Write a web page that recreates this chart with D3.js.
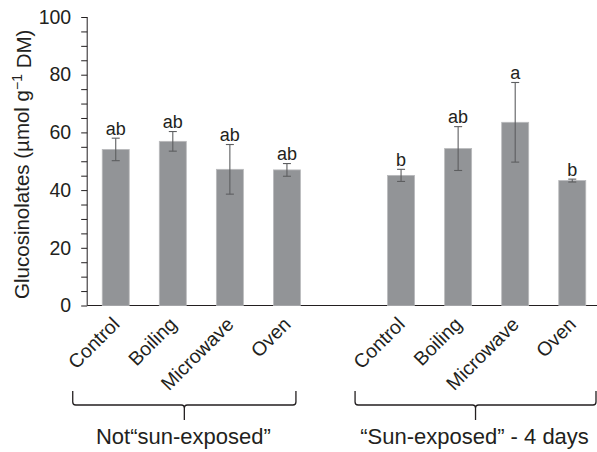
<!DOCTYPE html>
<html>
<head>
<meta charset="utf-8">
<script src="https://cdn.jsdelivr.net/npm/d3@7"></script>
<style>
  html, body { margin: 0; padding: 0; background: #fff; }
  svg { display: block; font-family: "Liberation Sans", Arial, sans-serif; }
</style>
</head>
<body>
<svg id="chart" width="597" height="452"></svg>
<script>
// ---- data ----
const groups = ["Not\u201Csun-exposed\u201D", "\u201CSun-exposed\u201D - 4 days"];
const treatments = ["Control", "Boiling", "Microwave", "Oven"];
const meansNot = [54.1, 56.9, 47.2, 47.0];
const errNot = [3.9, 3.4, 8.6, 2.2];
const lettersNot = ["ab", "ab", "ab", "ab"];
const meansSun = [45.1, 54.4, 63.5, 43.3];
const errSun = [2.1, 7.6, 13.8, 0.5];
const lettersSun = ["b", "ab", "a", "b"];
const yTicks = [0, 20, 40, 60, 80, 100];

// ---- build table ----
const seriesMeans = [meansNot, meansSun];
const seriesErr = [errNot, errSun];
const seriesLetters = [lettersNot, lettersSun];
const rows = [];
groups.forEach((g, gi) => {
  treatments.forEach((t, ti) => {
    rows.push({ key: gi + "-" + ti, group: gi, label: t,
      mean: seriesMeans[gi][ti], err: seriesErr[gi][ti], letter: seriesLetters[gi][ti] });
  });
});
const slots = [...treatments.map((t, i) => "0-" + i), "gap", ...treatments.map((t, i) => "1-" + i)];

const svg = d3.select("#chart");
const ink = "#231f20";

const x = d3.scaleBand().domain(slots).range([87.2, 600.8]).paddingInner(0.527).paddingOuter(0.2635);
const y = d3.scaleLinear().domain([0, 100]).range([305.5, 17]);
const xc = k => x(k) + x.bandwidth() / 2;

// y axis
const yAxis = d3.axisLeft(y).tickValues(d3.range(0, 101, 5)).tickSize(6).tickPadding(10)
  .tickFormat(d => yTicks.includes(d) ? d : "");
const gy = svg.append("g").attr("transform", "translate(87.2,0)").call(yAxis);
gy.select(".domain").attr("stroke", ink).attr("d", `M-0,${y(100)}V${y(0)}`);
gy.selectAll(".tick line").attr("stroke", ink);
gy.selectAll(".tick text").attr("fill", ink).style("font-size", "19.5px")
  .style("font-family", "Liberation Sans, Arial, sans-serif");

// x axis line
svg.append("line").attr("x1", 87.2).attr("x2", 597).attr("y1", y(0)).attr("y2", y(0))
  .attr("stroke", ink).attr("stroke-width", 1);

// bars
svg.append("g").selectAll("rect").data(rows).join("rect")
  .attr("x", d => x(d.key)).attr("width", x.bandwidth())
  .attr("y", d => y(d.mean)).attr("height", d => y(0) - y(d.mean))
  .attr("fill", "#929497").attr("stroke", "#b9babc").attr("stroke-width", 0.8);

// error bars
const eb = svg.append("g").attr("stroke", "#5d5e60").attr("stroke-width", 1.1);
rows.forEach(d => {
  const cx = xc(d.key);
  eb.append("line").attr("x1", cx).attr("x2", cx).attr("y1", y(d.mean + d.err)).attr("y2", y(d.mean - d.err));
  eb.append("line").attr("x1", cx - 4).attr("x2", cx + 4).attr("y1", y(d.mean + d.err)).attr("y2", y(d.mean + d.err));
  eb.append("line").attr("x1", cx - 4).attr("x2", cx + 4).attr("y1", y(d.mean - d.err)).attr("y2", y(d.mean - d.err));
});

// letters
svg.append("g").selectAll("text").data(rows).join("text")
  .attr("x", d => xc(d.key)).attr("y", d => y(d.mean + d.err) - 3.5)
  .attr("text-anchor", "middle").attr("fill", ink).style("font-size", "18px")
  .text(d => d.letter);

// x labels rotated
svg.append("g").selectAll("text").data(rows).join("text")
  .attr("transform", d => `translate(${xc(d.key) + 5},${y(0) + 20}) rotate(-45)`)
  .attr("text-anchor", "end").attr("fill", ink).style("font-size", "19.5px")
  .text(d => d.label);

// y label
svg.append("text")
  .attr("transform", `translate(28.5,${(y(0) + 23) / 2}) rotate(-90)`)
  .attr("text-anchor", "middle").attr("fill", ink).style("font-size", "20.5px")
  .call(t => {
    t.append("tspan").text("Glucosinolates (\u00B5mol g");
    t.append("tspan").attr("dy", "-0.45em").style("font-size", "14px").text("\u22121");
    t.append("tspan").attr("dy", "0.45em").text(" DM)");
  });

// brackets + group labels
const bracketOffsets = [[-43, 9], [-46, 24]];
groups.forEach((g, gi) => {
  const first = gi + "-0", last = gi + "-" + (treatments.length - 1);
  const x0 = xc(first) + bracketOffsets[gi][0];
  const x1 = Math.min(xc(last) + bracketOffsets[gi][1], 596);
  const cx = (x0 + x1) / 2;
  const yt = 391, yh = 405, yb = 420, r = 3;
  const p = `M${x0},${yt}V${yh - r}Q${x0},${yh} ${x0 + r},${yh}H${cx - r}Q${cx},${yh} ${cx},${yh + r}V${yb}` +
            `M${cx},${yh + r}Q${cx},${yh} ${cx + r},${yh}H${x1 - r}Q${x1},${yh} ${x1},${yh - r}V${yt}`;
  svg.append("path").attr("d", p).attr("fill", "none").attr("stroke", ink).attr("stroke-width", 1.3);
  svg.append("text").attr("x", cx - 1).attr("y", 444).attr("text-anchor", "middle")
    .attr("fill", ink).style("font-size", "22px").text(g);
});
</script>
</body>
</html>
